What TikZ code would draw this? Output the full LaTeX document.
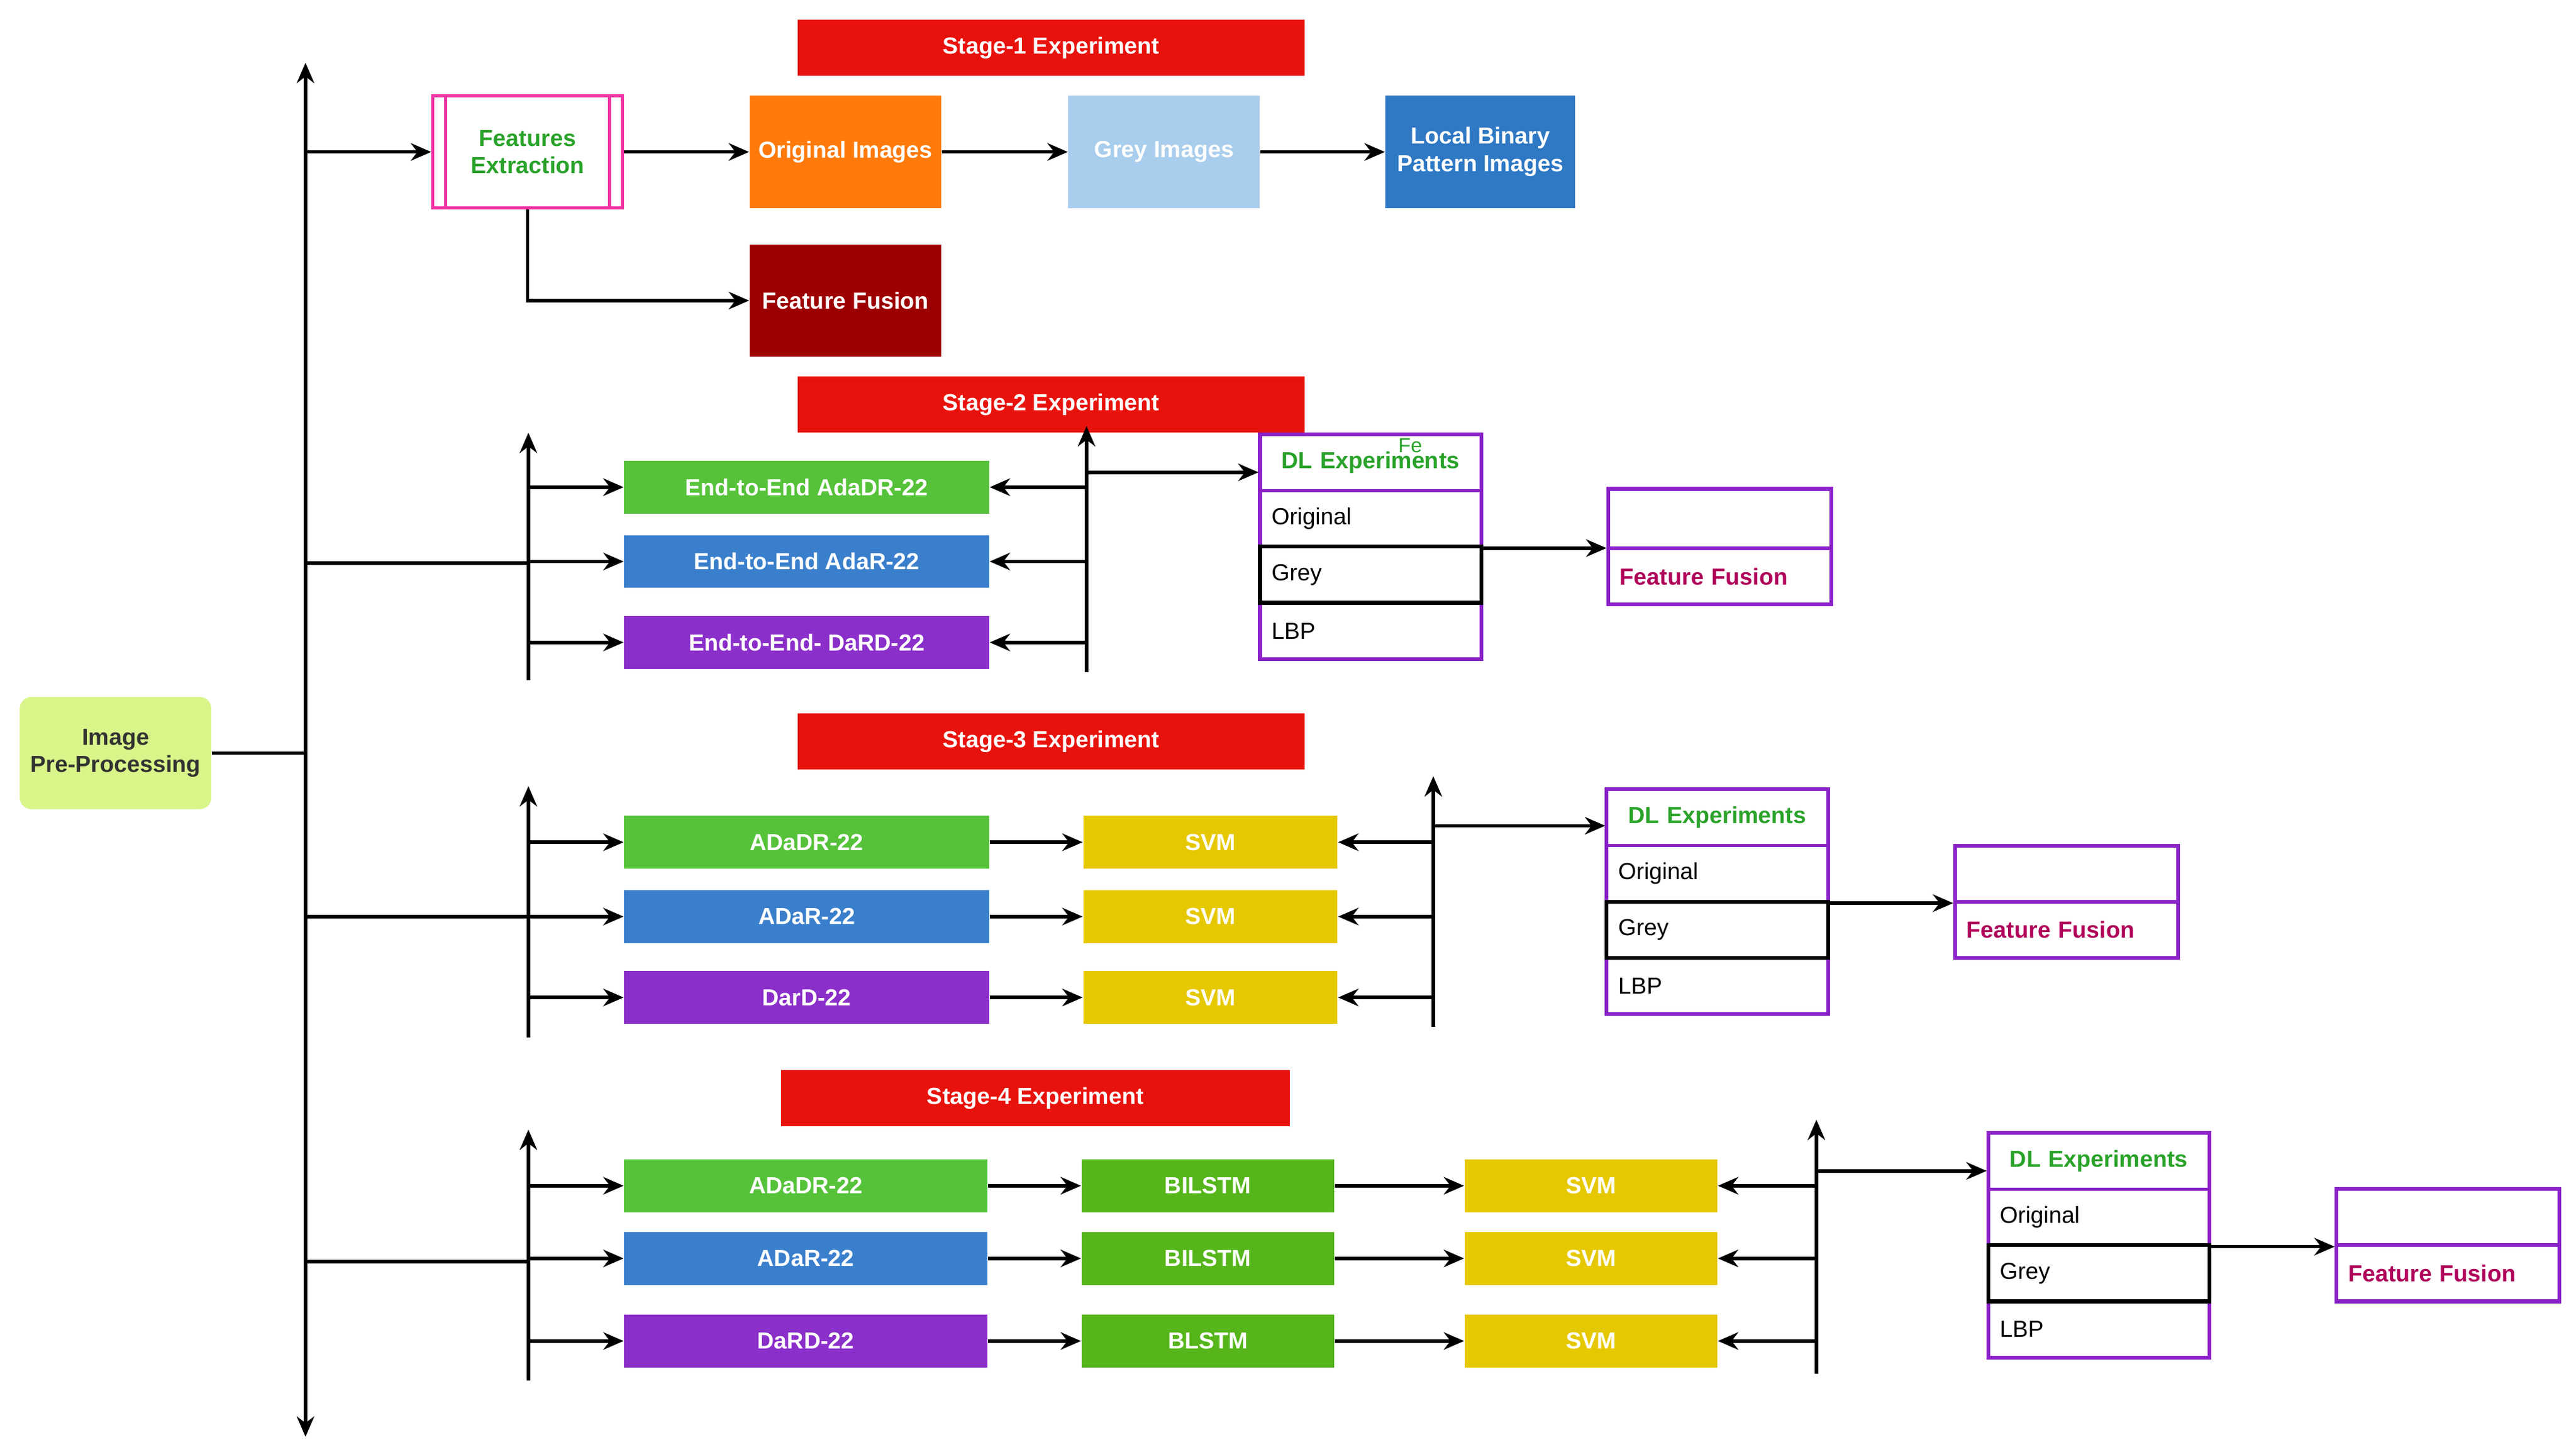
\documentclass[tikz,border=0pt]{standalone}
\usepackage{fontspec}
\setmainfont{Liberation Sans}
\usetikzlibrary{arrows.meta}
\definecolor{cred}{HTML}{E8120C}
\definecolor{corange}{HTML}{FF7A0A}
\definecolor{clblue}{HTML}{A9CDEC}
\definecolor{cblue}{HTML}{2E78C4}
\definecolor{cdred}{HTML}{9C0000}
\definecolor{cgreen}{HTML}{56C23A}
\definecolor{cblue2}{HTML}{3A7FCC}
\definecolor{cpurple}{HTML}{8A2FC9}
\definecolor{cyellow}{HTML}{E6C800}
\definecolor{cbil}{HTML}{55B51A}
\definecolor{cpb}{HTML}{8A22C8}
\definecolor{ctg}{HTML}{2AA22A}
\definecolor{cff}{HTML}{B0005A}
\definecolor{cimg}{HTML}{D9F58A}
\newcommand\B[7]{\node[#6,minimum width={(#4-#2)*0.02cm},minimum height={(#5-#3)*0.02cm}] (#1) at ({(#2+#4)/2},{(#3+#5)/2}) {#7};}
\begin{document}
\begin{tikzpicture}[x=0.02cm,y=-0.02cm,font=\fontsize{8}{9.5}\selectfont\bfseries,
 every node/.style={inner sep=0pt,align=center},
 fb/.style={fill=#1,text=white},
 ln/.style={line width=1.2pt},
 arr/.style={line width=1.2pt,-{Stealth[length=7pt,width=6pt]}},
 tb/.style={draw=cpb,line width=1pt,anchor=center,text width={(#1)*0.02cm-8pt},align=left,text=black,font=\fontsize{8}{9.5}\selectfont},
 hd/.style={text=ctg,font=\fontsize{8}{9.5}\selectfont\bfseries,align=center},
 fft/.style={text=cff,font=\fontsize{8}{9.5}\selectfont\bfseries,line width=1.3pt},
]
\useasboundingbox (0,0) rectangle (1560,879);
% image preprocessing
\B{img}{12}{422}{128}{490}{fb=cimg,rounded corners=4pt,text=black!80}{Image\\Pre-Processing}
\coordinate (mt) at (185,38); \coordinate (mb) at (185,870);
\draw[arr] (185,456) -- (mt);
\draw[arr] (185,456) -- (mb);
\draw[ln] (img.east) -- (185,456);
% stage 1
\B{s1}{483}{12}{790}{46}{fb=cred}{Stage-1 Experiment}
\B{fe}{262}{58}{377}{126}{draw=magenta!80,line width=1pt,text=ctg}{Features\\Extraction}
\draw[magenta!80,line width=1pt] (270,58)--(270,126) (369,58)--(369,126);
\B{oi}{454}{58}{570}{126}{fb=corange}{Original Images}
\B{gi}{647}{58}{763}{126}{fb=clblue}{Grey Images}
\B{lbp}{839}{58}{954}{126}{fb=cblue}{Local Binary\\Pattern Images}
\B{ff1}{454}{148}{570}{216}{fb=cdred}{Feature Fusion}
\draw[arr] (mt|-fe.west) -- (fe.west);
\draw[arr] (fe) -- (oi); \draw[arr] (oi) -- (gi); \draw[arr] (gi) -- (lbp);
\draw[arr] (fe.south) |- (ff1.west);
% stage 2
\B{s2}{483}{228}{790}{262}{fb=cred}{Stage-2 Experiment}
\coordinate (l2t) at (320,262); \coordinate (l2b) at (320,412);
\draw[arr] (l2b) -- (l2t);
\draw[ln] (185,341) -- (320,341);
\B{a1}{378}{279}{599}{311}{fb=cgreen}{End-to-End AdaDR-22}
\B{a2}{378}{324}{599}{356}{fb=cblue2}{End-to-End AdaR-22}
\B{a3}{378}{373}{599}{405}{fb=cpurple}{End-to-End- DaRD-22}
\foreach \n in {a1,a2,a3}{\draw[arr] (l2t|-\n.west) -- (\n.west);}
\coordinate (r2t) at (658,258); \coordinate (r2b) at (658,407);
\draw[arr] (r2b) -- (r2t);
\foreach \n in {a1,a2,a3}{\draw[arr] (r2t|-\n.east) -- (\n.east);}
\B{d2h}{763}{263}{897}{297}{tb=134,hd}{DL Experiments}
\B{d2o}{763}{297}{897}{331}{tb=134}{Original}
\B{d2l}{763}{365}{897}{399}{tb=134}{LBP}
\draw[cpb,line width=1.3pt] (763,263) rectangle (897,399);
\B{d2g}{763}{331}{897}{365}{tb=134,draw=black,line width=1.3pt}{Grey}
\node[text=ctg,font=\fontsize{7}{8}\selectfont] at (854,270) {Fe};
\draw[arr] (658,286) -- (d2h.west|-0,286);
\B{f2a}{974}{296}{1109}{332}{draw=cpb,line width=1.3pt}{}
\B{f2b}{974}{332}{1109}{366}{tb=135,fft}{Feature Fusion}
\draw[arr] (d2o.south east) -- (f2a.west|-d2o.south east);
% stage 3
\B{s3}{483}{432}{790}{466}{fb=cred}{Stage-3 Experiment}
\coordinate (l3t) at (320,476); \coordinate (l3b) at (320,628);
\draw[arr] (l3b) -- (l3t);
\draw[ln] (185,555) -- (320,555);
\B{b1}{378}{494}{599}{526}{fb=cgreen}{ADaDR-22}
\B{b2}{378}{539}{599}{571}{fb=cblue2}{ADaR-22}
\B{b3}{378}{588}{599}{620}{fb=cpurple}{DarD-22}
\B{v1}{656}{494}{810}{526}{fb=cyellow}{SVM}
\B{v2}{656}{539}{810}{571}{fb=cyellow}{SVM}
\B{v3}{656}{588}{810}{620}{fb=cyellow}{SVM}
\foreach \n/\m in {b1/v1,b2/v2,b3/v3}{\draw[arr] (l3t|-\n.west) -- (\n.west); \draw[arr] (\n) -- (\m);}
\coordinate (r3t) at (868,470); \coordinate (r3b) at (868,622);
\draw[arr] (r3b) -- (r3t);
\foreach \n in {v1,v2,v3}{\draw[arr] (r3t|-\n.east) -- (\n.east);}
\B{d3h}{973}{478}{1107}{512}{tb=134,hd}{DL Experiments}
\B{d3o}{973}{512}{1107}{546}{tb=134}{Original}
\B{d3l}{973}{580}{1107}{614}{tb=134}{LBP}
\draw[cpb,line width=1.3pt] (973,478) rectangle (1107,614);
\B{d3g}{973}{546}{1107}{580}{tb=134,draw=black,line width=1.3pt}{Grey}
\draw[arr] (868,500) -- (d3h.west|-0,500);
\B{f3a}{1184}{512}{1319}{546}{draw=cpb,line width=1.3pt}{}
\B{f3b}{1184}{546}{1319}{580}{tb=135,fft}{Feature Fusion}
\draw[arr] (d3o.south east) -- (f3a.west|-d3o.south east);
% stage 4
\B{s4}{473}{648}{781}{682}{fb=cred}{Stage-4 Experiment}
\coordinate (l4t) at (320,684); \coordinate (l4b) at (320,836);
\draw[arr] (l4b) -- (l4t);
\draw[ln] (185,764) -- (320,764);
\B{c1}{378}{702}{598}{734}{fb=cgreen}{ADaDR-22}
\B{c2}{378}{746}{598}{778}{fb=cblue2}{ADaR-22}
\B{c3}{378}{796}{598}{828}{fb=cpurple}{DaRD-22}
\B{m1}{655}{702}{808}{734}{fb=cbil}{BILSTM}
\B{m2}{655}{746}{808}{778}{fb=cbil}{BILSTM}
\B{m3}{655}{796}{808}{828}{fb=cbil}{BLSTM}
\B{w1}{887}{702}{1040}{734}{fb=cyellow}{SVM}
\B{w2}{887}{746}{1040}{778}{fb=cyellow}{SVM}
\B{w3}{887}{796}{1040}{828}{fb=cyellow}{SVM}
\foreach \n/\m/\k in {c1/m1/w1,c2/m2/w2,c3/m3/w3}{\draw[arr] (l4t|-\n.west) -- (\n.west); \draw[arr] (\n) -- (\m); \draw[arr] (\m) -- (\k);}
\coordinate (r4t) at (1100,678); \coordinate (r4b) at (1100,832);
\draw[arr] (r4b) -- (r4t);
\foreach \n in {w1,w2,w3}{\draw[arr] (r4t|-\n.east) -- (\n.east);}
\B{d4h}{1204}{686}{1338}{720}{tb=134,hd}{DL Experiments}
\B{d4o}{1204}{720}{1338}{754}{tb=134}{Original}
\B{d4l}{1204}{788}{1338}{822}{tb=134}{LBP}
\draw[cpb,line width=1.3pt] (1204,686) rectangle (1338,822);
\B{d4g}{1204}{754}{1338}{788}{tb=134,draw=black,line width=1.3pt}{Grey}
\draw[arr] (1100,709) -- (d4h.west|-0,709);
\B{f4a}{1415}{720}{1550}{754}{draw=cpb,line width=1.3pt}{}
\B{f4b}{1415}{754}{1550}{788}{tb=135,fft}{Feature Fusion}
\draw[arr] (d4o.south east) -- (f4a.west|-d4o.south east);
\end{tikzpicture}
\end{document}
